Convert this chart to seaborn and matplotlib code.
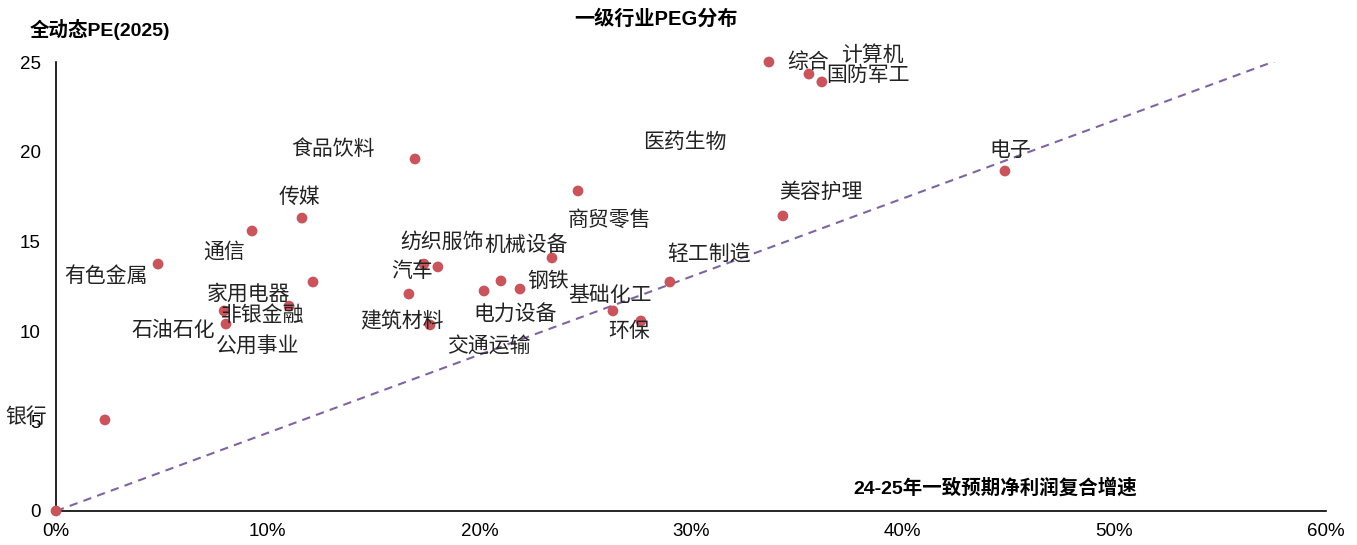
import matplotlib
matplotlib.use("Agg")
import matplotlib.pyplot as plt
import seaborn as sns
import pandas as pd
from matplotlib.ticker import PercentFormatter

# ---------------- data ----------------
industries = ["综合", "计算机", "国防军工", "电子", "美容护理", "商贸零售", "食品饮料",
              "传媒", "通信", "有色金属", "家用电器", "非银金融", "石油石化", "公用事业",
              "银行", "", "纺织服饰", "汽车", "交通运输", "建筑材料", "电力设备",
              "医药生物", "钢铁", "机械设备", "轻工制造", "基础化工", "环保"]
growth = [0.3368, 0.3557, 0.3618, 0.4483, 0.3434, 0.2466, 0.1696,
          0.1162, 0.0926, 0.0482, 0.0794, 0.1101, 0.0803, 0.1214,
          0.0231, 0.0, 0.1738, 0.1804, 0.1667, 0.1767, 0.2022,
          0.2102, 0.2192, 0.2343, 0.2900, 0.2631, 0.2763]
pe = [25.0, 24.33, 23.89, 18.93, 16.43, 17.82, 19.60,
      16.31, 15.59, 13.75, 11.14, 11.41, 10.41, 12.75,
      5.07, 0.0, 13.75, 13.59, 12.08, 10.36, 12.25,
      12.81, 12.36, 14.09, 12.75, 11.14, 10.58]
# label anchor positions (data coords)
label_x = [0.3553, 0.3855, 0.3836, 0.4506, 0.3614, 0.2617, 0.1308,
           0.1148, 0.0794, 0.0236, 0.0907, 0.0978, 0.0553, 0.0954,
           -0.0142, 0.0, 0.1823, 0.1682, 0.2045, 0.1634, 0.2168,
           0.2971, 0.2324, 0.2220, 0.3085, 0.2617, 0.2707]
label_y = [25.0, 25.39, 24.28, 20.1, 17.76, 16.2, 20.16,
           17.48, 14.42, 13.08, 12.08, 10.91, 10.08, 9.19,
           5.23, 0.0, 14.98, 13.36, 9.19, 10.58, 10.91,
           20.55, 12.81, 14.81, 14.25, 12.03, 10.02]

ref_x = [0.0, 0.577]
ref_y = [0.0, 25.1]

x_ticks = [0.0, 0.1, 0.2, 0.3, 0.4, 0.5, 0.6]
y_ticks = [0, 5, 10, 15, 20, 25]

title = "一级行业PEG分布"
ylabel = "全动态PE(2025)"
xlabel = "24-25年一致预期净利润复合增速"

# ---------------- style ----------------
sns.set_theme(style="white")
plt.rcParams['font.family'] = ['Liberation Sans', 'Noto Sans CJK SC', 'DejaVu Sans']

df = pd.DataFrame({"industry": industries, "growth": growth, "pe": pe})
ref = pd.DataFrame({"x": ref_x, "y": ref_y})

fig = plt.figure(figsize=(13.57, 5.45), dpi=100)
ax = fig.add_axes([0.0413, 0.0624, 0.9359, 0.8238])

sns.lineplot(data=ref, x="x", y="y", ax=ax, color="#8064A2", linestyle=(0, (4, 3)),
             linewidth=1.5, zorder=2)
sns.scatterplot(data=df, x="growth", y="pe", ax=ax, color="#C9545C", s=60,
                edgecolor="none", zorder=3, clip_on=False)

for name, lx, ly in zip(industries, label_x, label_y):
    if name:
        ax.text(lx, ly, name, ha="center", va="center", fontsize=15,
                family=['Noto Sans CJK SC', 'DejaVu Sans'], color="#222222",
                clip_on=False, zorder=4)

ax.set_xlim(0, 0.6)
ax.set_ylim(0, 25)
ax.set_xticks(x_ticks)
ax.set_yticks(y_ticks)
ax.xaxis.set_major_formatter(PercentFormatter(1.0, decimals=0))
ax.set_xlabel("")
ax.set_ylabel("")

for s in ["top", "right"]:
    ax.spines[s].set_visible(False)
for s in ["left", "bottom"]:
    ax.spines[s].set_color("black")
    ax.spines[s].set_linewidth(1.2)

ax.tick_params(axis="both", which="major", direction="out", length=4, width=1.2,
               color="black", labelsize=13.5, labelcolor="black")
ax.tick_params(axis="y", pad=7)
ax.tick_params(axis="x", pad=5)

fig.text(656 / 1357, 1 - 19 / 545, title, ha="center", va="center", fontsize=14.5,
         fontweight="bold", color="black")
fig.text(30 / 1357, 1 - 29 / 545, ylabel, ha="left", va="center", fontsize=14,
         fontweight="bold", color="black")
fig.text(995 / 1357, 1 - 488 / 545, xlabel, ha="center", va="center", fontsize=14,
         fontweight="bold", color="black")

fig.savefig("out.png", dpi=100)
